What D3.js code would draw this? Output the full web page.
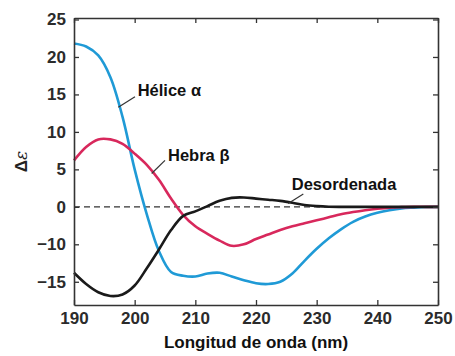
<!DOCTYPE html>
<html>
<head>
<meta charset="utf-8" />
<title>Dicroismo circular</title>
<script src="https://cdn.jsdelivr.net/npm/d3@7"></script>
<style>
  body { margin: 0; background: #fff; }
  svg text { font-family: "Liberation Sans", Arial, sans-serif; }
  .tick text { font-family: "Liberation Sans", Arial, sans-serif; font-weight: 700; font-size: 17px; fill: #2b2b2b; }
</style>
</head>
<body>
<div id="chart"></div>
<script>
// wavelengths (nm), every 2 nm
var wavelengths = [190,192,194,196,198,200,202,204,206,208,210,212,214,216,218,220,
                   222,224,226,228,230,232,234,236,238,240,242,244,246,248,250];

// values, in the picture's own (evenly spaced) y units
var helice = [21.8,21.4,20.2,17.3,12.0,5.0,-1.0,-5.9,-8.7,-9.2,-9.3,-8.9,-8.8,-9.3,-9.8,-10.2,
              -10.3,-10.0,-8.9,-7.2,-5.6,-4.2,-3.0,-2.0,-1.3,-0.8,-0.45,-0.2,-0.1,-0.03,0];
var hebra  = [6.2,8.0,9.0,9.0,8.4,7.1,5.6,3.6,1.1,-1.1,-2.6,-3.6,-4.5,-5.2,-5.0,-4.3,
              -3.7,-3.1,-2.6,-2.2,-1.8,-1.4,-1.0,-0.7,-0.45,-0.25,-0.1,-0.04,0,0,0];
var desord = [-8.8,-10.3,-11.4,-11.9,-11.7,-10.5,-8.2,-5.7,-3.1,-1.2,-0.6,0.1,0.8,1.2,1.25,1.1,
              0.95,0.8,0.55,0.25,0.1,0.02,0,0,0,0,0,0,0,0,0];

var xTicks = [190,200,210,220,230,240,250];
var yTicks = [25,20,15,10,5,0,-5,-10];
var yTickLabels = ["25","20","15","10","5","0","\u221210","\u221215"];

var series = [
  { name: "Hélice α",    values: helice, color: "#1f9ad6", label: [200.5, 14.8], lead: [[197.3,13.3],[200.05,14.7]] },
  { name: "Hebra β",     values: hebra,  color: "#d8285c", label: [205.5, 6.1],  lead: [[202.8,4.45],[205.0,6.2]] },
  { name: "Desordenada", values: desord, color: "#1a1a1a", label: [225.9, 2.3],  lead: [[225.3,0.45],[227.8,1.7]] }
];

var W = 455, H = 356;
var margin = {top: 18, right: 17, bottom: 51, left: 74};

var svg = d3.select("#chart").append("svg")
    .attr("width", W).attr("height", H);

var x = d3.scaleLinear().domain([190, 250]).range([margin.left, W - margin.right]);
var y = d3.scaleLinear().domain([-13.1, 25.2]).range([H - margin.bottom, margin.top]);

// zero line
svg.append("line")
    .attr("x1", x(190)).attr("x2", x(250))
    .attr("y1", y(0)).attr("y2", y(0))
    .attr("stroke", "#333").attr("stroke-width", 1.3)
    .attr("stroke-dasharray", "6,4");

var line = d3.line()
    .x(function(d, i) { return x(wavelengths[i]); })
    .y(function(d) { return y(d); })
    .curve(d3.curveCatmullRom.alpha(0.5));

svg.selectAll("path.serie")
    .data(series)
    .enter().append("path")
    .attr("class", "serie")
    .attr("d", function(d) { return line(d.values); })
    .attr("fill", "none")
    .attr("stroke", function(d) { return d.color; })
    .attr("stroke-width", 2.6);

// axes, ticks pointing inward
var fmtY = function(d) { return yTickLabels[yTicks.indexOf(d)]; };

svg.append("g")
    .attr("transform", "translate(0," + y.range()[0] + ")")
    .call(d3.axisBottom(x).tickValues(xTicks).tickSizeInner(-5).tickSizeOuter(0).tickPadding(7).tickFormat(d3.format("d")));
svg.append("g")
    .attr("transform", "translate(0," + y.range()[1] + ")")
    .call(d3.axisTop(x).tickValues(xTicks).tickSizeInner(-5).tickSizeOuter(0).tickFormat(""));
svg.append("g")
    .attr("transform", "translate(" + x.range()[0] + ",0)")
    .call(d3.axisLeft(y).tickValues(yTicks).tickSizeInner(-5).tickSizeOuter(0).tickPadding(8).tickFormat(fmtY));
svg.append("g")
    .attr("transform", "translate(" + x.range()[1] + ",0)")
    .call(d3.axisRight(y).tickValues(yTicks).tickSizeInner(-5).tickSizeOuter(0).tickFormat(""));

svg.selectAll(".domain").attr("stroke", "#333").attr("stroke-width", 1.6);
svg.selectAll(".tick line").attr("stroke", "#333").attr("stroke-width", 1.3);

// curve labels with leader lines
svg.selectAll("line.lead")
    .data(series)
    .enter().append("line")
    .attr("class", "lead")
    .attr("x1", function(d) { return x(d.lead[0][0]); })
    .attr("y1", function(d) { return y(d.lead[0][1]); })
    .attr("x2", function(d) { return x(d.lead[1][0]); })
    .attr("y2", function(d) { return y(d.lead[1][1]); })
    .attr("stroke", "#333").attr("stroke-width", 1.2);

svg.selectAll("text.lbl")
    .data(series)
    .enter().append("text")
    .attr("class", "lbl")
    .attr("x", function(d) { return x(d.label[0]); })
    .attr("y", function(d) { return y(d.label[1]); })
    .attr("font-size", "16.5px").attr("font-weight", "bold")
    .attr("fill", "#111")
    .text(function(d) { return d.name; });

// axis titles
svg.append("text")
    .attr("x", (x.range()[0] + x.range()[1]) / 2)
    .attr("y", 348)
    .attr("text-anchor", "middle")
    .attr("font-size", "17px").attr("font-weight", "bold")
    .attr("fill", "#111")
    .text("Longitud de onda (nm)");

var yt = svg.append("text")
    .attr("transform", "translate(27," + (y.range()[0] + y.range()[1]) / 2 + ") rotate(-90)")
    .attr("text-anchor", "middle")
    .attr("font-size", "17px").attr("font-weight", "bold")
    .attr("fill", "#222");
yt.append("tspan").text("Δ");
yt.append("tspan").attr("font-style", "italic").attr("font-family", "DejaVu Serif, serif").attr("font-weight", "normal").text("ε");
</script>
</body>
</html>
